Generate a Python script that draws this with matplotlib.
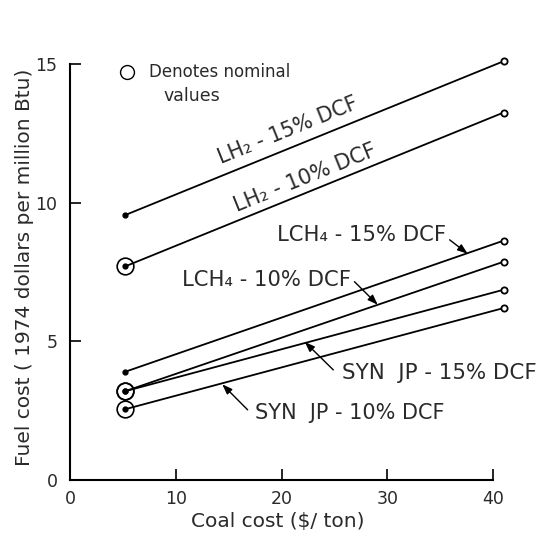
import matplotlib
matplotlib.use("Agg")
import matplotlib.pyplot as plt

# ---- data ----
coal = [5.2, 41.0]
lh2_15 = [9.55, 15.1]
lh2_10 = [7.7, 13.25]
lch4_15 = [3.9, 8.63]
lch4_10 = [3.2, 7.87]
syn_15 = [3.2, 6.86]
syn_10 = [2.55, 6.2]

series = [
    ("LH2 15%", lh2_15, False),
    ("LH2 10%", lh2_10, True),
    ("LCH4 15%", lch4_15, False),
    ("LCH4 10%", lch4_10, True),
    ("SYN 15%", syn_15, True),
    ("SYN 10%", syn_10, True),
]

xticks = [0, 10, 20, 30, 40]
yticks = [0, 5, 10, 15]

plt.rcParams['font.family'] = ['DejaVu Sans']
TXT = '#2a2a2a'
FS = 12.5

fig = plt.figure(figsize=(5.44, 5.39), dpi=100)
ax = fig.add_axes([70/544, 1-480/539, 423/544, 416/539])

for name, ys, nominal in series:
    ax.plot(coal, ys, color='black', lw=1.3, clip_on=False, zorder=3)
    ax.plot(coal[1], ys[1], 'o', ms=4.5, mfc='white', mec='black', mew=1.3,
            clip_on=False, zorder=4)
    ax.plot(coal[0], ys[0], 'o', ms=3.5, color='black', clip_on=False, zorder=4)
    if nominal:
        ax.plot(coal[0], ys[0], 'o', ms=12, mfc='none', mec='black', mew=1.2,
                clip_on=False, zorder=4)

ax.set_xlim(0, 40)
ax.set_ylim(0, 15)
ax.set_xticks(xticks)
ax.set_yticks(yticks)
ax.spines['top'].set_visible(False)
ax.spines['right'].set_visible(False)
for s in ('left', 'bottom'):
    ax.spines[s].set_linewidth(1.5)
ax.tick_params(direction='in', length=8, width=1.2, labelsize=FS,
               labelcolor=TXT)
ax.tick_params(axis='y', pad=9)
ax.tick_params(axis='x', pad=7)

fig.text(278/544, 1-522/539, "Coal cost ($/ ton)", fontsize=14.5, color=TXT,
         ha='center', va='center')
fig.text(25/544, 1-267/539, "Fuel cost ( 1974 dollars per million Btu)",
         fontsize=14.5, color=TXT, ha='center', va='center', rotation=90)

# legend note
ax.plot(5.4, 14.7, 'o', ms=10, mfc='none', mec='black', mew=1.0,
        clip_on=False)
ax.text(7.5, 14.7, "Denotes nominal", fontsize=12, color=TXT, va='center',
        ha='left')
ax.text(11.5, 13.86, "values", fontsize=12.5, color=TXT, va='center',
        ha='center')

# line labels
ax.text(20.6, 12.6, "LH₂ - 15% DCF", fontsize=14.8, color=TXT, rotation=22,
        ha='center', va='center', rotation_mode='anchor')
ax.text(22.2, 10.9, "LH₂ - 10% DCF", fontsize=15.0, color=TXT, rotation=22,
        ha='center', va='center', rotation_mode='anchor')
ax.text(27.6, 8.84, "LCH₄ - 15% DCF", fontsize=15.2, color=TXT,
        ha='center', va='center')
ax.text(18.6, 7.22, "LCH₄ - 10% DCF", fontsize=15.2, color=TXT,
        ha='center', va='center')
ax.text(34.9, 3.86, "SYN  JP - 15% DCF", fontsize=15.4, color=TXT,
        ha='center', va='center')
ax.text(26.5, 2.42, "SYN  JP - 10% DCF", fontsize=15.0, color=TXT,
        ha='center', va='center')

arrow = dict(arrowstyle='-|>,head_length=0.6,head_width=0.22', color='black',
             lw=1.0, shrinkA=0, shrinkB=0)
ax.annotate("", xy=(37.6, 8.16), xytext=(35.9, 8.66), arrowprops=arrow)
ax.annotate("", xy=(29.1, 6.32), xytext=(26.9, 7.15), arrowprops=arrow)
ax.annotate("", xy=(22.2, 4.98), xytext=(24.9, 3.97), arrowprops=arrow)
ax.annotate("", xy=(14.4, 3.45), xytext=(16.8, 2.53), arrowprops=arrow)

fig.savefig("out.png", dpi=100)
